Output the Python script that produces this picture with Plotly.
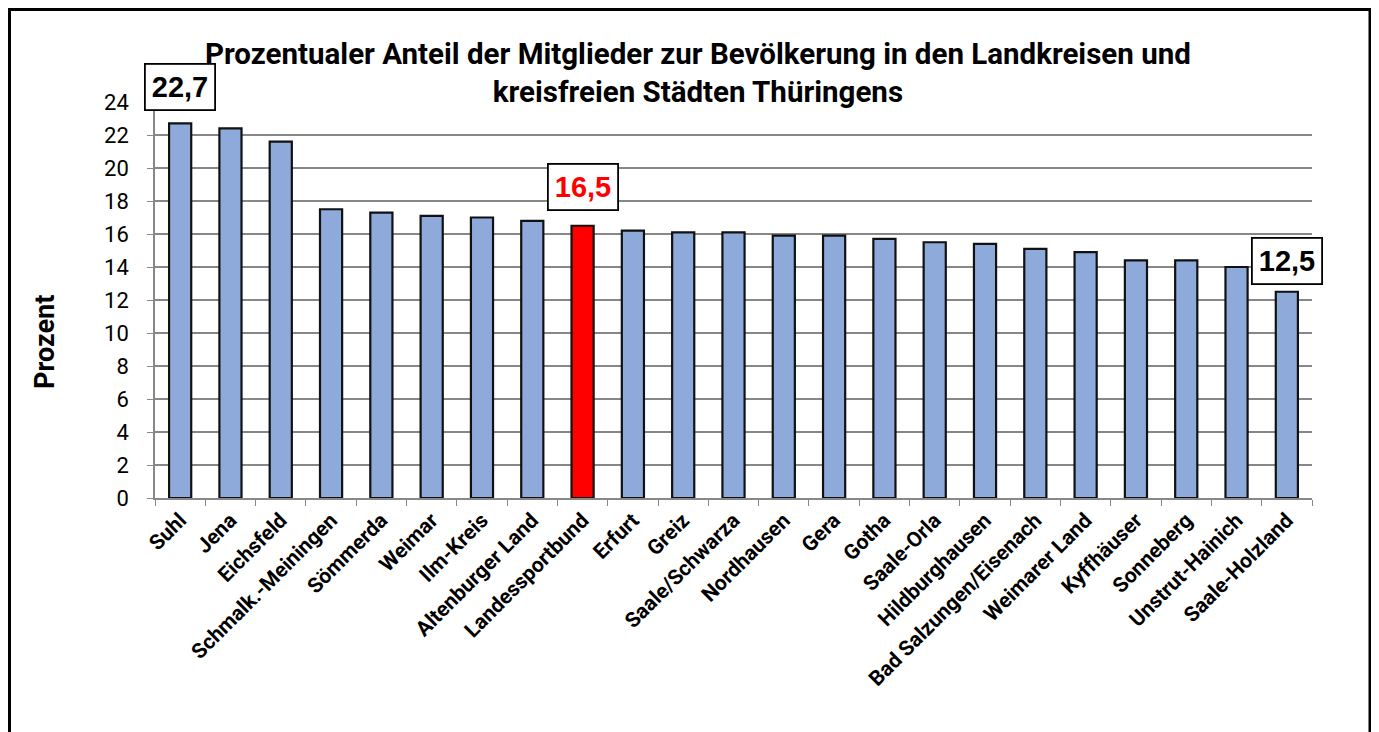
import plotly.graph_objects as go

categories = ["Suhl", "Jena", "Eichsfeld", "Schmalk.-Meiningen", "Sömmerda", "Weimar",
              "Ilm-Kreis", "Altenburger Land", "Landessportbund", "Erfurt", "Greiz",
              "Saale/Schwarza", "Nordhausen", "Gera", "Gotha", "Saale-Orla",
              "Hildburghausen", "Bad Salzungen/Eisenach", "Weimarer Land", "Kyffhäuser",
              "Sonneberg", "Unstrut-Hainich", "Saale-Holzland"]
values = [22.7, 22.4, 21.6, 17.5, 17.3, 17.1, 17.0, 16.8, 16.5, 16.2, 16.1,
          16.1, 15.9, 15.9, 15.7, 15.5, 15.4, 15.1, 14.9, 14.4, 14.4, 14.0, 12.5]
highlight = "Landessportbund"
y_ticks = list(range(0, 25, 2))
grid_ticks = list(range(2, 23, 2))
callouts = [("Suhl", "22,7", "black", 12), ("Landessportbund", "16,5", "#ff0000", 15),
            ("Saale-Holzland", "12,5", "black", 7)]

colors = ["#ff0000" if c == highlight else "#8eaadb" for c in categories]

FONT = "Roboto, 'DejaVu Sans', sans-serif"

# page offset of 8px (body margin) -> figure coords = page coords - 8
W, H = 1371, 724
ML, MR, MT, MB = 147, 67, 94, 234
pw, ph = W - ML - MR, H - MT - MB
OFF = 8

def px2x(px):
    return (px - OFF - ML) / pw

def py2y(py):
    return (H - MB - (py - OFF)) / ph

fig = go.Figure()
fig.add_trace(go.Bar(
    x=categories, y=values,
    marker=dict(color=colors, line=dict(color="#111111", width=2.2)),
    width=0.44,
))

annotations = []
for cat, txt, col, ys in callouts:
    v = values[categories.index(cat)]
    annotations.append(dict(x=cat, y=v, xref="x", yref="y", text="<b>%s</b>" % txt, showarrow=False,
                            yanchor="bottom", yshift=ys,
                            font=dict(family="'Liberation Sans', Arial", size=29, color=col),
                            bgcolor="white", borderpad=6, borderwidth=1.8, bordercolor="black"))

annotations.append(dict(
    x=px2x(698), y=py2y(73), xref="paper", yref="paper", showarrow=False,
    text="<b>Prozentualer Anteil der Mitglieder zur Bevölkerung in den Landkreisen und<br>kreisfreien Städten Thüringens</b>",
    font=dict(family=FONT, size=29.5, color="black"), align="center",
    xanchor="center", yanchor="middle"))

annotations.append(dict(
    x=px2x(45), y=py2y(342), xref="paper", yref="paper", showarrow=False,
    text="<b>Prozent</b>", textangle=-90,
    font=dict(family=FONT, size=27, color="black"),
    xanchor="center", yanchor="middle"))

shapes = [dict(type="line", xref="paper", yref="y", x0=0, x1=1, y0=g, y1=g,
               line=dict(color="#111111", width=1.2), layer="below") for g in grid_ticks]
shapes.append(dict(type="rect", xref="paper", yref="paper",
                   x0=px2x(9.5), x1=px2x(1370), y0=py2y(780), y1=py2y(9.5),
                   line=dict(color="black", width=3), layer="below"))

fig.update_layout(
    width=W, height=H,
    margin=dict(l=ML, r=MR, t=MT, b=MB),
    paper_bgcolor="white", plot_bgcolor="white",
    showlegend=False,
    annotations=annotations,
    shapes=shapes,
    xaxis=dict(
        range=[-0.5, len(categories) - 0.5],
        tickangle=-45, tickson="boundaries", ticks="outside", ticklen=6,
        tickcolor="#888888", showline=True, linecolor="#888888", linewidth=1.5,
        tickmode="array", tickvals=categories,
        ticktext=["<b>%s</b>" % c for c in categories],
        tickfont=dict(family=FONT, size=21, color="black"),
        showgrid=False,
    ),
    yaxis=dict(
        range=[0, 24], tickvals=y_ticks, ticks="outside", ticklen=6, tickcolor="#888888",
        showline=True, linecolor="#888888", linewidth=1.5,
        showgrid=False, ticklabelstandoff=14,
        tickfont=dict(family=FONT, size=22, color="black"),
        zeroline=False,
    ),
)

fig.write_html("out.html")
